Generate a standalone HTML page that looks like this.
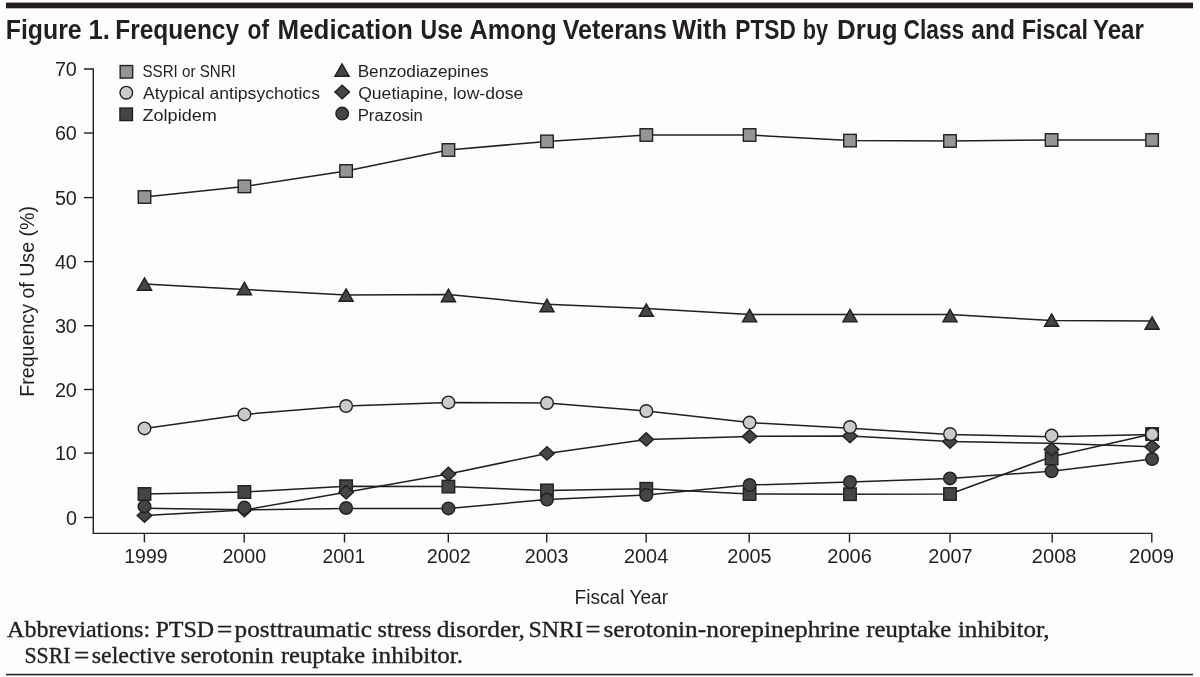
<!DOCTYPE html>
<html lang="en"><head><meta charset="utf-8"><title>Figure 1. Frequency of Medication Use Among Veterans With PTSD by Drug Class and Fiscal Year</title>
<style>
html,body{margin:0;padding:0;background:#fcfdfc;}
body{width:1200px;height:677px;overflow:hidden;font-family:"Liberation Sans",sans-serif;}
svg{display:block;will-change:transform;}
svg text{font-family:"Liberation Sans",sans-serif;fill:#231f20;}
svg text.serif{font-family:"Liberation Serif",serif;stroke:#231f20;stroke-width:0.35px;}
</style></head><body>
<svg width="1200" height="677" viewBox="0 0 1200 677">
<rect x="0" y="0" width="1200" height="677" fill="#fcfdfc"/>
<rect x="6" y="2.6" width="1187" height="5.7" fill="#231f20"/>
<rect x="6" y="673.8" width="1187" height="1.5" fill="#231f20"/>
<g fill="none" stroke="#231f20" stroke-width="1.4">
<path d="M84,69.0 H93.3 V533.4 H1151.8 V542.4"/>
<path d="M84,133.0 H93.3"/>
<path d="M84,197.6 H93.3"/>
<path d="M84,261.6 H93.3"/>
<path d="M84,325.7 H93.3"/>
<path d="M84,389.5 H93.3"/>
<path d="M84,453.1 H93.3"/>
<path d="M84,517.5 H93.3"/>
<path d="M144.4,533.4 V542.4"/>
<path d="M244.2,533.4 V542.4"/>
<path d="M344.5,533.4 V542.4"/>
<path d="M448.3,533.4 V542.4"/>
<path d="M546.7,533.4 V542.4"/>
<path d="M646.2,533.4 V542.4"/>
<path d="M749.2,533.4 V542.4"/>
<path d="M849.5,533.4 V542.4"/>
<path d="M950.0,533.4 V542.4"/>
<path d="M1052.2,533.4 V542.4"/>
</g>
<text x="5.75" y="39.3" font-size="26.9" font-weight="bold" textLength="75.87" lengthAdjust="spacingAndGlyphs" >Figure</text>
<text x="88.39" y="39.3" font-size="26.9" font-weight="bold" textLength="21.42" lengthAdjust="spacingAndGlyphs" >1.</text>
<text x="115.17" y="39.3" font-size="26.9" font-weight="bold" textLength="123.98" lengthAdjust="spacingAndGlyphs" >Frequency</text>
<text x="247.59" y="39.3" font-size="26.9" font-weight="bold" textLength="21.47" lengthAdjust="spacingAndGlyphs" >of</text>
<text x="277.58" y="39.3" font-size="26.9" font-weight="bold" textLength="135.37" lengthAdjust="spacingAndGlyphs" >Medication</text>
<text x="420.62" y="39.3" font-size="26.9" font-weight="bold" textLength="42.25" lengthAdjust="spacingAndGlyphs" >Use</text>
<text x="469.61" y="39.3" font-size="26.9" font-weight="bold" textLength="87.01" lengthAdjust="spacingAndGlyphs" >Among</text>
<text x="562.70" y="39.3" font-size="26.9" font-weight="bold" textLength="104.31" lengthAdjust="spacingAndGlyphs" >Veterans</text>
<text x="672.30" y="39.3" font-size="26.9" font-weight="bold" textLength="54.62" lengthAdjust="spacingAndGlyphs" >With</text>
<text x="735.28" y="39.3" font-size="26.9" font-weight="bold" textLength="60.50" lengthAdjust="spacingAndGlyphs" >PTSD</text>
<text x="802.84" y="39.3" font-size="26.9" font-weight="bold" textLength="25.32" lengthAdjust="spacingAndGlyphs" >by</text>
<text x="837.08" y="39.3" font-size="26.9" font-weight="bold" textLength="60.58" lengthAdjust="spacingAndGlyphs" >Drug</text>
<text x="903.49" y="39.3" font-size="26.9" font-weight="bold" textLength="60.73" lengthAdjust="spacingAndGlyphs" >Class</text>
<text x="971.32" y="39.3" font-size="26.9" font-weight="bold" textLength="43.55" lengthAdjust="spacingAndGlyphs" >and</text>
<text x="1021.84" y="39.3" font-size="26.9" font-weight="bold" textLength="66.24" lengthAdjust="spacingAndGlyphs" >Fiscal</text>
<text x="1092.92" y="39.3" font-size="26.9" font-weight="bold" textLength="50.92" lengthAdjust="spacingAndGlyphs" >Year</text>
<text x="142.53" y="77.4" font-size="17.3" textLength="93.24" lengthAdjust="spacingAndGlyphs" >SSRI or SNRI</text>
<text x="143.00" y="99.3" font-size="17.3" textLength="176.95" lengthAdjust="spacingAndGlyphs" >Atypical antipsychotics</text>
<text x="142.43" y="120.6" font-size="17.3" textLength="74.50" lengthAdjust="spacingAndGlyphs" >Zolpidem</text>
<text x="357.66" y="77.4" font-size="17.3" textLength="130.88" lengthAdjust="spacingAndGlyphs" >Benzodiazepines</text>
<text x="358.18" y="99.3" font-size="17.3" textLength="165.14" lengthAdjust="spacingAndGlyphs" >Quetiapine, low-dose</text>
<text x="357.69" y="120.6" font-size="17.3" textLength="65.25" lengthAdjust="spacingAndGlyphs" >Prazosin</text>
<text x="124.28" y="563.4" font-size="20.5" textLength="43.31" lengthAdjust="spacingAndGlyphs" >1999</text>
<text x="222.38" y="563.4" font-size="20.5" textLength="43.81" lengthAdjust="spacingAndGlyphs" >2000</text>
<text x="322.50" y="563.4" font-size="20.5" textLength="42.68" lengthAdjust="spacingAndGlyphs" >2001</text>
<text x="426.77" y="563.4" font-size="20.5" textLength="44.03" lengthAdjust="spacingAndGlyphs" >2002</text>
<text x="524.78" y="563.4" font-size="20.5" textLength="43.72" lengthAdjust="spacingAndGlyphs" >2003</text>
<text x="624.07" y="563.4" font-size="20.5" textLength="44.12" lengthAdjust="spacingAndGlyphs" >2004</text>
<text x="727.37" y="563.4" font-size="20.5" textLength="44.13" lengthAdjust="spacingAndGlyphs" >2005</text>
<text x="827.36" y="563.4" font-size="20.5" textLength="44.45" lengthAdjust="spacingAndGlyphs" >2006</text>
<text x="928.37" y="563.4" font-size="20.5" textLength="44.13" lengthAdjust="spacingAndGlyphs" >2007</text>
<text x="1031.76" y="563.4" font-size="20.5" textLength="44.76" lengthAdjust="spacingAndGlyphs" >2008</text>
<text x="1129.05" y="563.4" font-size="20.5" textLength="45.07" lengthAdjust="spacingAndGlyphs" >2009</text>
<text x="574.51" y="604" font-size="20" textLength="93.58" lengthAdjust="spacingAndGlyphs" >Fiscal Year</text>
<text x="7.00" y="637" font-size="23" textLength="143.10" lengthAdjust="spacingAndGlyphs" class="serif">Abbreviations:</text>
<text x="155.42" y="637" font-size="23" textLength="58.71" lengthAdjust="spacingAndGlyphs" class="serif">PTSD</text>
<text x="216.70" y="637" font-size="23" textLength="15.64" lengthAdjust="spacingAndGlyphs" class="serif">=</text>
<text x="234.61" y="637" font-size="23" textLength="137.25" lengthAdjust="spacingAndGlyphs" class="serif">posttraumatic</text>
<text x="377.54" y="637" font-size="23" textLength="53.78" lengthAdjust="spacingAndGlyphs" class="serif">stress</text>
<text x="436.71" y="637" font-size="23" textLength="88.17" lengthAdjust="spacingAndGlyphs" class="serif">disorder,</text>
<text x="528.51" y="637" font-size="23" textLength="54.49" lengthAdjust="spacingAndGlyphs" class="serif">SNRI</text>
<text x="585.45" y="637" font-size="23" textLength="15.04" lengthAdjust="spacingAndGlyphs" class="serif">=</text>
<text x="603.41" y="637" font-size="23" textLength="256.35" lengthAdjust="spacingAndGlyphs" class="serif">serotonin-norepinephrine</text>
<text x="866.31" y="637" font-size="23" textLength="85.03" lengthAdjust="spacingAndGlyphs" class="serif">reuptake</text>
<text x="957.91" y="637" font-size="23" textLength="91.66" lengthAdjust="spacingAndGlyphs" class="serif">inhibitor,</text>
<text x="24.44" y="662.7" font-size="23" textLength="46.01" lengthAdjust="spacingAndGlyphs" class="serif">SSRI</text>
<text x="74.03" y="662.7" font-size="23" textLength="15.28" lengthAdjust="spacingAndGlyphs" class="serif">=</text>
<text x="91.75" y="662.7" font-size="23" textLength="83.77" lengthAdjust="spacingAndGlyphs" class="serif">selective</text>
<text x="180.72" y="662.7" font-size="23" textLength="93.08" lengthAdjust="spacingAndGlyphs" class="serif">serotonin</text>
<text x="280.92" y="662.7" font-size="23" textLength="84.32" lengthAdjust="spacingAndGlyphs" class="serif">reuptake</text>
<text x="371.61" y="662.7" font-size="23" textLength="91.46" lengthAdjust="spacingAndGlyphs" class="serif">inhibitor.</text>
<text x="54.89" y="76.3" font-size="20.5" textLength="22.00" lengthAdjust="spacingAndGlyphs">70</text>
<text x="54.89" y="140.3" font-size="20.5" textLength="22.00" lengthAdjust="spacingAndGlyphs">60</text>
<text x="54.89" y="204.9" font-size="20.5" textLength="22.00" lengthAdjust="spacingAndGlyphs">50</text>
<text x="54.89" y="268.9" font-size="20.5" textLength="22.00" lengthAdjust="spacingAndGlyphs">40</text>
<text x="54.89" y="333.0" font-size="20.5" textLength="22.00" lengthAdjust="spacingAndGlyphs">30</text>
<text x="54.89" y="396.8" font-size="20.5" textLength="22.00" lengthAdjust="spacingAndGlyphs">20</text>
<text x="54.89" y="460.4" font-size="20.5" textLength="22.00" lengthAdjust="spacingAndGlyphs">10</text>
<text x="65.89" y="524.8" font-size="20.5" textLength="11.00" lengthAdjust="spacingAndGlyphs">0</text>
<text transform="translate(33.5,396.73) rotate(-90)" font-size="20" textLength="190.75" lengthAdjust="spacingAndGlyphs">Frequency of Use (%)</text>
<rect x="120.15" y="65.55" width="12.5" height="12.5" fill="#959595" stroke="#231f20" stroke-width="1.4"/>
<circle cx="126.30" cy="92.70" r="6.3" fill="#cbcbcb" stroke="#231f20" stroke-width="1.4"/>
<rect x="119.95" y="108.05" width="12.5" height="12.5" fill="#454545" stroke="#231f20" stroke-width="1.4"/>
<path d="M342.00,63.80 L349.10,76.30 L334.90,76.30 Z" fill="#454545" stroke="#231f20" stroke-width="1.4"/>
<path d="M342.20,85.25 L349.50,92.00 L342.20,98.75 L334.90,92.00 Z" fill="#454545" stroke="#231f20" stroke-width="1.4"/>
<circle cx="342.20" cy="113.60" r="6.3" fill="#454545" stroke="#231f20" stroke-width="1.4"/>
<g fill="none" stroke="#231f20" stroke-width="1.5" stroke-linejoin="round">
<polyline points="144.5,197.0 244.4,186.4 346.1,171.0 448.4,150.0 547.0,141.4 646.3,135.0 749.6,135.0 850.0,140.6 950.0,141.0 1051.6,140.0 1152.1,140.0"/>
<polyline points="144.5,284.0 244.4,289.4 346.1,295.0 448.4,294.6 547.0,304.2 646.3,308.4 749.6,314.6 850.0,314.4 950.0,314.4 1051.6,320.6 1152.1,321.0"/>
<polyline points="144.5,428.4 244.4,414.4 346.1,406.0 448.4,402.4 547.0,403.0 646.3,411.0 749.6,422.6 850.0,428.2 950.0,434.4 1051.6,436.8 1152.1,434.4"/>
<polyline points="144.5,515.6 244.4,510.0 346.1,492.3 448.4,474.0 547.0,453.4 646.3,439.4 749.6,436.4 850.0,436.0 950.0,441.6 1051.6,443.2 1152.1,446.8"/>
<polyline points="144.5,494.0 244.4,492.0 346.1,486.2 448.4,486.6 547.0,490.4 646.3,488.8 749.6,494.0 850.0,494.2 950.0,494.0 1051.6,456.8 1152.1,434.0"/>
<polyline points="144.5,508.2 244.4,509.8 346.1,508.4 448.4,508.4 547.0,499.6 646.3,495.0 749.6,485.0 850.0,482.0 950.0,478.4 1051.6,471.2 1152.1,459.0"/>
</g>
<rect x="138.25" y="190.75" width="12.5" height="12.5" fill="#959595" stroke="#231f20" stroke-width="1.4"/>
<rect x="238.15" y="180.15" width="12.5" height="12.5" fill="#959595" stroke="#231f20" stroke-width="1.4"/>
<rect x="339.85" y="164.75" width="12.5" height="12.5" fill="#959595" stroke="#231f20" stroke-width="1.4"/>
<rect x="442.15" y="143.75" width="12.5" height="12.5" fill="#959595" stroke="#231f20" stroke-width="1.4"/>
<rect x="540.75" y="135.15" width="12.5" height="12.5" fill="#959595" stroke="#231f20" stroke-width="1.4"/>
<rect x="640.05" y="128.75" width="12.5" height="12.5" fill="#959595" stroke="#231f20" stroke-width="1.4"/>
<rect x="743.35" y="128.75" width="12.5" height="12.5" fill="#959595" stroke="#231f20" stroke-width="1.4"/>
<rect x="843.75" y="134.35" width="12.5" height="12.5" fill="#959595" stroke="#231f20" stroke-width="1.4"/>
<rect x="943.75" y="134.75" width="12.5" height="12.5" fill="#959595" stroke="#231f20" stroke-width="1.4"/>
<rect x="1045.35" y="133.75" width="12.5" height="12.5" fill="#959595" stroke="#231f20" stroke-width="1.4"/>
<rect x="1145.85" y="133.75" width="12.5" height="12.5" fill="#959595" stroke="#231f20" stroke-width="1.4"/>
<path d="M144.50,277.80 L151.60,290.30 L137.40,290.30 Z" fill="#454545" stroke="#231f20" stroke-width="1.4"/>
<path d="M244.40,282.20 L251.50,294.70 L237.30,294.70 Z" fill="#454545" stroke="#231f20" stroke-width="1.4"/>
<path d="M346.10,288.80 L353.20,301.30 L339.00,301.30 Z" fill="#454545" stroke="#231f20" stroke-width="1.4"/>
<path d="M448.40,289.20 L455.50,301.70 L441.30,301.70 Z" fill="#454545" stroke="#231f20" stroke-width="1.4"/>
<path d="M547.00,299.20 L554.10,311.70 L539.90,311.70 Z" fill="#454545" stroke="#231f20" stroke-width="1.4"/>
<path d="M646.30,303.80 L653.40,316.30 L639.20,316.30 Z" fill="#454545" stroke="#231f20" stroke-width="1.4"/>
<path d="M749.60,309.40 L756.70,321.90 L742.50,321.90 Z" fill="#454545" stroke="#231f20" stroke-width="1.4"/>
<path d="M850.00,309.40 L857.10,321.90 L842.90,321.90 Z" fill="#454545" stroke="#231f20" stroke-width="1.4"/>
<path d="M950.00,309.40 L957.10,321.90 L942.90,321.90 Z" fill="#454545" stroke="#231f20" stroke-width="1.4"/>
<path d="M1051.60,313.80 L1058.70,326.30 L1044.50,326.30 Z" fill="#454545" stroke="#231f20" stroke-width="1.4"/>
<path d="M1152.10,316.80 L1159.20,329.30 L1145.00,329.30 Z" fill="#454545" stroke="#231f20" stroke-width="1.4"/>
<rect x="138.25" y="487.75" width="12.5" height="12.5" fill="#454545" stroke="#231f20" stroke-width="1.4"/>
<rect x="238.15" y="485.75" width="12.5" height="12.5" fill="#454545" stroke="#231f20" stroke-width="1.4"/>
<rect x="339.85" y="479.95" width="12.5" height="12.5" fill="#454545" stroke="#231f20" stroke-width="1.4"/>
<rect x="442.15" y="480.35" width="12.5" height="12.5" fill="#454545" stroke="#231f20" stroke-width="1.4"/>
<rect x="540.75" y="484.15" width="12.5" height="12.5" fill="#454545" stroke="#231f20" stroke-width="1.4"/>
<rect x="640.05" y="482.55" width="12.5" height="12.5" fill="#454545" stroke="#231f20" stroke-width="1.4"/>
<rect x="743.35" y="487.75" width="12.5" height="12.5" fill="#454545" stroke="#231f20" stroke-width="1.4"/>
<rect x="843.75" y="487.95" width="12.5" height="12.5" fill="#454545" stroke="#231f20" stroke-width="1.4"/>
<rect x="943.75" y="487.75" width="12.5" height="12.5" fill="#454545" stroke="#231f20" stroke-width="1.4"/>
<rect x="1045.35" y="452.35" width="12.5" height="12.5" fill="#454545" stroke="#231f20" stroke-width="1.4"/>
<rect x="1145.85" y="427.75" width="12.5" height="12.5" fill="#454545" stroke="#231f20" stroke-width="1.4"/>
<path d="M144.50,508.85 L151.80,515.60 L144.50,522.35 L137.20,515.60 Z" fill="#454545" stroke="#231f20" stroke-width="1.4"/>
<path d="M244.40,503.25 L251.70,510.00 L244.40,516.75 L237.10,510.00 Z" fill="#454545" stroke="#231f20" stroke-width="1.4"/>
<path d="M346.10,485.55 L353.40,492.30 L346.10,499.05 L338.80,492.30 Z" fill="#454545" stroke="#231f20" stroke-width="1.4"/>
<path d="M448.40,467.25 L455.70,474.00 L448.40,480.75 L441.10,474.00 Z" fill="#454545" stroke="#231f20" stroke-width="1.4"/>
<path d="M547.00,446.65 L554.30,453.40 L547.00,460.15 L539.70,453.40 Z" fill="#454545" stroke="#231f20" stroke-width="1.4"/>
<path d="M646.30,432.65 L653.60,439.40 L646.30,446.15 L639.00,439.40 Z" fill="#454545" stroke="#231f20" stroke-width="1.4"/>
<path d="M749.60,429.65 L756.90,436.40 L749.60,443.15 L742.30,436.40 Z" fill="#454545" stroke="#231f20" stroke-width="1.4"/>
<path d="M850.00,429.25 L857.30,436.00 L850.00,442.75 L842.70,436.00 Z" fill="#454545" stroke="#231f20" stroke-width="1.4"/>
<path d="M950.00,434.85 L957.30,441.60 L950.00,448.35 L942.70,441.60 Z" fill="#454545" stroke="#231f20" stroke-width="1.4"/>
<path d="M1051.60,442.65 L1058.90,449.40 L1051.60,456.15 L1044.30,449.40 Z" fill="#454545" stroke="#231f20" stroke-width="1.4"/>
<path d="M1152.10,440.05 L1159.40,446.80 L1152.10,453.55 L1144.80,446.80 Z" fill="#454545" stroke="#231f20" stroke-width="1.4"/>
<circle cx="144.50" cy="506.40" r="6.3" fill="#454545" stroke="#231f20" stroke-width="1.4"/>
<circle cx="244.40" cy="507.60" r="6.3" fill="#454545" stroke="#231f20" stroke-width="1.4"/>
<circle cx="346.10" cy="508.00" r="6.3" fill="#454545" stroke="#231f20" stroke-width="1.4"/>
<circle cx="448.40" cy="508.40" r="6.3" fill="#454545" stroke="#231f20" stroke-width="1.4"/>
<circle cx="547.00" cy="499.60" r="6.3" fill="#454545" stroke="#231f20" stroke-width="1.4"/>
<circle cx="646.30" cy="495.00" r="6.3" fill="#454545" stroke="#231f20" stroke-width="1.4"/>
<circle cx="749.60" cy="485.00" r="6.3" fill="#454545" stroke="#231f20" stroke-width="1.4"/>
<circle cx="850.00" cy="482.00" r="6.3" fill="#454545" stroke="#231f20" stroke-width="1.4"/>
<circle cx="950.00" cy="478.40" r="6.3" fill="#454545" stroke="#231f20" stroke-width="1.4"/>
<circle cx="1051.60" cy="471.20" r="6.3" fill="#454545" stroke="#231f20" stroke-width="1.4"/>
<circle cx="1152.10" cy="459.00" r="6.3" fill="#454545" stroke="#231f20" stroke-width="1.4"/>
<circle cx="144.50" cy="428.40" r="6.3" fill="#cbcbcb" stroke="#231f20" stroke-width="1.4"/>
<circle cx="244.40" cy="414.40" r="6.3" fill="#cbcbcb" stroke="#231f20" stroke-width="1.4"/>
<circle cx="346.10" cy="406.00" r="6.3" fill="#cbcbcb" stroke="#231f20" stroke-width="1.4"/>
<circle cx="448.40" cy="402.40" r="6.3" fill="#cbcbcb" stroke="#231f20" stroke-width="1.4"/>
<circle cx="547.00" cy="403.00" r="6.3" fill="#cbcbcb" stroke="#231f20" stroke-width="1.4"/>
<circle cx="646.30" cy="411.00" r="6.3" fill="#cbcbcb" stroke="#231f20" stroke-width="1.4"/>
<circle cx="749.60" cy="422.60" r="6.3" fill="#cbcbcb" stroke="#231f20" stroke-width="1.4"/>
<circle cx="850.00" cy="427.00" r="6.3" fill="#cbcbcb" stroke="#231f20" stroke-width="1.4"/>
<circle cx="950.00" cy="434.00" r="6.3" fill="#cbcbcb" stroke="#231f20" stroke-width="1.4"/>
<circle cx="1051.60" cy="435.60" r="6.3" fill="#cbcbcb" stroke="#231f20" stroke-width="1.4"/>
<circle cx="1152.10" cy="434.40" r="6.3" fill="#cbcbcb" stroke="#231f20" stroke-width="1.4"/>
</svg></body></html>
